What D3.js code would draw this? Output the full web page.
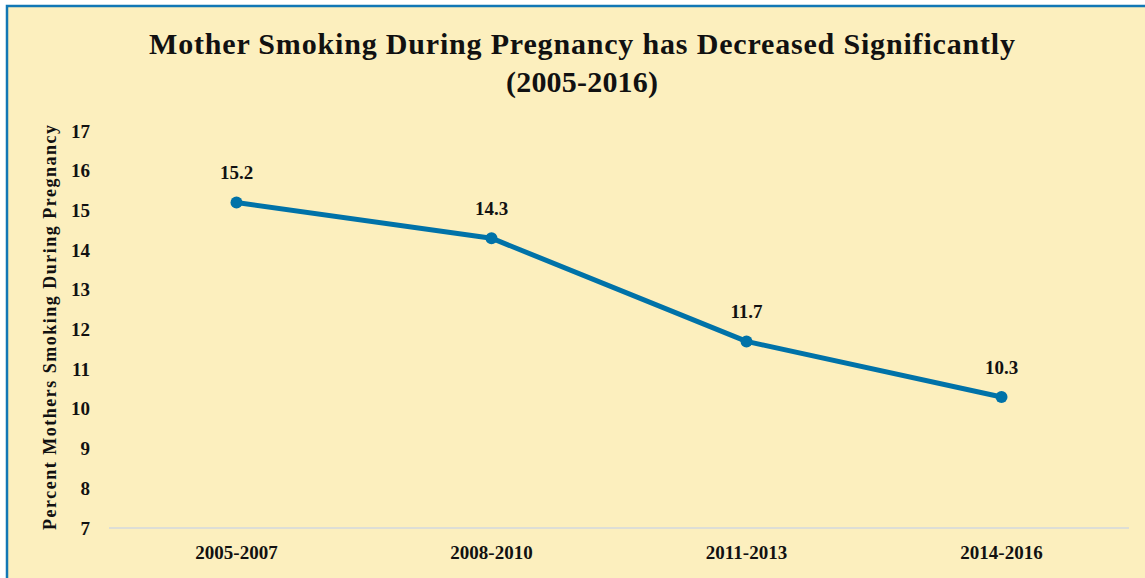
<!DOCTYPE html>
<html><head><meta charset="utf-8">
<script src="https://cdn.jsdelivr.net/npm/d3@7"></script>
<style>
html,body{margin:0;padding:0;background:#fff;}
svg{display:block;}
</style></head>
<body>
<svg id="chart" width="1145" height="578"></svg>
<script>
const categories = ["2005-2007", "2008-2010", "2011-2013", "2014-2016"];
const values = [15.2, 14.3, 11.7, 10.3];
const yTicks = [7, 8, 9, 10, 11, 12, 13, 14, 15, 16, 17];
const titleLines = ["Mother Smoking During Pregnancy has Decreased Significantly", "(2005-2016)"];
const yLabel = "Percent Mothers Smoking During Pregnancy";

const svg = d3.select("#chart");
const font = "'Liberation Serif', 'Times New Roman', serif";

svg.append("rect").attr("x", 0).attr("y", 0).attr("width", 1145).attr("height", 578).attr("fill", "#ffffff");
svg.append("rect").attr("x", 7).attr("y", 6).attr("width", 1150).attr("height", 590)
  .attr("fill", "#FCEFBE").attr("stroke", "#1277B5").attr("stroke-width", 2.5);

const x = d3.scaleBand().domain(categories).range([109, 1129]);
const y = d3.scaleLinear().domain([7, 17]).range([528, 131]);

// baseline
svg.append("line").attr("x1", 109).attr("x2", 1129).attr("y1", y(7)).attr("y2", y(7))
  .attr("stroke", "#D3D8DE").attr("stroke-width", 1.5);

// y axis
const yAxis = d3.axisLeft(y).tickValues(yTicks).tickSize(0).tickPadding(0);
const gy = svg.append("g").attr("transform", "translate(90,0)").call(yAxis);
gy.select(".domain").remove();
gy.selectAll("text").attr("font-family", font).attr("font-weight", "bold").attr("font-size", 19).attr("fill", "#111");

// x axis
const xAxis = d3.axisBottom(x).tickSize(0).tickPadding(0);
const gx = svg.append("g").attr("transform", `translate(0,${y(7) + 17})`).call(xAxis);
gx.select(".domain").remove();
gx.selectAll("text").attr("font-family", font).attr("font-weight", "bold").attr("font-size", 19).attr("fill", "#111");

// line
const cx = d => x(d) + x.bandwidth() / 2;
const data = categories.map((c, i) => ({c, v: values[i]}));
svg.append("path").datum(data)
  .attr("d", d3.line().x(d => cx(d.c)).y(d => y(d.v)))
  .attr("fill", "none").attr("stroke", "#0072A8").attr("stroke-width", 5).attr("stroke-linejoin", "round");
svg.selectAll("circle.pt").data(data).enter().append("circle")
  .attr("cx", d => cx(d.c)).attr("cy", d => y(d.v)).attr("r", 6).attr("fill", "#0072A8");
svg.selectAll("text.lbl").data(data).enter().append("text")
  .attr("x", d => cx(d.c)).attr("y", d => y(d.v) - 23)
  .attr("text-anchor", "middle").attr("font-family", font).attr("font-weight", "bold")
  .attr("font-size", 19).attr("fill", "#111").text(d => d.v.toFixed(1));

// title
const titleWidths = [866, 152];
svg.selectAll("text.title").data(titleLines).enter().append("text")
  .attr("x", 582).attr("y", (d, i) => 54 + i * 38)
  .attr("text-anchor", "middle").attr("font-family", font).attr("font-weight", "bold")
  .attr("font-size", 30).attr("fill", "#111")
  .attr("textLength", (d, i) => titleWidths[i]).attr("lengthAdjust", "spacing")
  .text(d => d);

// y label
svg.append("text").attr("transform", `translate(56,${(125 + 530) / 2}) rotate(-90)`)
  .attr("text-anchor", "middle").attr("font-family", font).attr("font-weight", "bold")
  .attr("font-size", 18).attr("fill", "#111")
  .attr("textLength", 405).attr("lengthAdjust", "spacing").text(yLabel);
</script>
</body></html>
